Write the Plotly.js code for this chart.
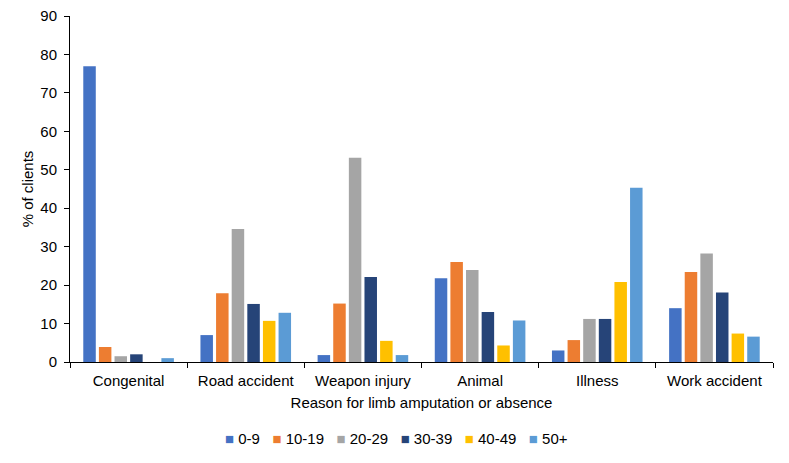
<!DOCTYPE html>
<html><head><meta charset="utf-8">
<script src="https://cdn.plot.ly/plotly-3.0.1.min.js"></script>
<style>html,body{margin:0;padding:0;background:#fff}#c{width:789px;height:463px}</style>
</head><body><div id="c"></div>
<script>
const categories = ["Congenital","Road accident","Weapon injury","Animal","Illness","Work accident"];
const seriesNames = ["0-9","10-19","20-29","30-39","40-49","50+"];
const age0_9   = [76.9, 7.0, 1.8, 21.8, 3.0, 14.0];
const age10_19 = [3.9, 17.9, 15.2, 26.0, 5.7, 23.4];
const age20_29 = [1.5, 34.6, 53.1, 23.9, 11.2, 28.2];
const age30_39 = [2.0, 15.1, 22.1, 13.0, 11.2, 18.1];
const age40_49 = [0, 10.7, 5.5, 4.3, 20.8, 7.4];
const age50p   = [1.0, 12.8, 1.8, 10.8, 45.3, 6.6];
const seriesValues = [age0_9, age10_19, age20_29, age30_39, age40_49, age50p];
const colors = ["#4472C4","#ED7D31","#A5A5A5","#264478","#FFC000","#5B9BD5"];

const traces = seriesNames.map((n,i)=>({
  type:"bar", name:n, x:categories, y:seriesValues[i],
  marker:{color:colors[i]}, hoverinfo:"y", showlegend:false
}));
const font = {family:"Liberation Sans, Arial, sans-serif", color:"#000"};
const legendText = seriesNames.map((n,i)=>
  `<span style="color:${colors[i]};font-size:15px">■</span> ${n}`
).join('&nbsp;&nbsp;&nbsp;');
Plotly.newPlot("c", traces, {
  width:789, height:463,
  margin:{l:70, r:16, t:16, b:101, autoexpand:false},
  paper_bgcolor:"#fff", plot_bgcolor:"#fff",
  font:Object.assign({size:15}, font),
  barmode:"group", bargap:0.2, bargroupgap:0.2,
  showlegend:false,
  xaxis:{
    showline:true, linecolor:"#000", linewidth:1,
    ticks:"outside", tickson:"boundaries", ticklen:5, tickcolor:"#000",
    ticklabelstandoff:5,
    tickfont:Object.assign({size:15}, font),
    title:{text:"Reason for limb amputation or absence", font:Object.assign({size:15}, font), standoff:9},
    showgrid:false, zeroline:false
  },
  yaxis:{
    range:[0,90], dtick:10, showline:true, linecolor:"#000", linewidth:1,
    ticks:"outside", ticklen:5, tickcolor:"#000", showgrid:false, zeroline:false,
    ticklabelstandoff:4,
    tickfont:Object.assign({size:15}, font),
    title:{text:"% of clients", font:Object.assign({size:15}, font), standoff:3}
  },
  annotations:[{
    text:legendText, showarrow:false, xref:"paper", yref:"paper",
    x:0.464, y:-0.22, xanchor:"center", yanchor:"middle",
    font:Object.assign({size:15}, font)
  }]
}, {displayModeBar:false, staticPlot:true});
</script></body></html>
